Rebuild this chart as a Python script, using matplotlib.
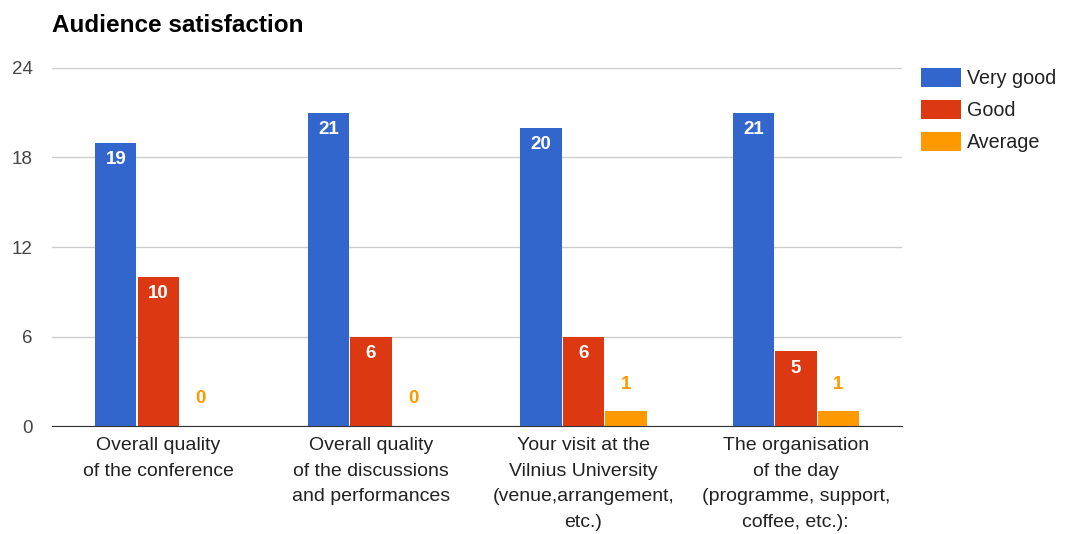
import matplotlib.pyplot as plt
import numpy as np

plt.rcParams['font.family'] = ['Liberation Sans', 'DejaVu Sans']

categories = ['Overall quality\nof the conference',
              'Overall quality\nof the discussions\nand performances',
              'Your visit at the\nVilnius University\n(venue,arrangement,\netc.)',
              'The organisation\nof the day\n(programme, support,\ncoffee, etc.):']
very_good = [19, 21, 20, 21]
good = [10, 6, 6, 5]
average = [0, 0, 1, 1]

series = [('Very good', very_good, '#3366CC'),
          ('Good', good, '#DC3912'),
          ('Average', average, '#FF9900')]

fig = plt.figure(figsize=(10.66, 5.34), dpi=100)
ax = fig.add_axes([0.0488, 0.2022, 0.7974, 0.6705])

x = np.arange(len(categories))
w = 0.2
for i, (name, vals, col) in enumerate(series):
    pos = x + (i - 1) * w
    ax.bar(pos, vals, width=w - 0.005, color=col, label=name, zorder=3)
    for p, v in zip(pos, vals):
        if v >= 3:
            ax.annotate(str(v), (p, v), xytext=(0, -10.5), textcoords='offset points',
                        ha='center', va='center_baseline', color='white', fontsize=13.5,
                        fontweight='bold', zorder=4)
        else:
            ax.annotate(str(v), (p, v), xytext=(0, 19.5), textcoords='offset points',
                        ha='center', va='center', color=col, fontsize=13.5,
                        fontweight='bold', zorder=4)

ax.set_xlim(-0.5, 3.5)
ax.set_ylim(0, 24)
ax.set_yticks([0, 6, 12, 18, 24])
ax.yaxis.grid(True, color='#cccccc', linewidth=1, zorder=0)
ax.set_xticks(x)
ax.set_xticklabels(categories, fontsize=14, color='#222222', linespacing=1.66, va='top')
ax.tick_params(axis='x', length=0, pad=8)
ax.tick_params(axis='y', length=0, pad=14, labelsize=13.5, labelcolor='#444444')
for s in ['top', 'right', 'left']:
    ax.spines[s].set_visible(False)
ax.spines['bottom'].set_color('#333333')
ax.spines['bottom'].set_zorder(5)

fig.text(0.0488, 0.953, 'Audience satisfaction', fontsize=17.5, fontweight='bold',
         color='#000000', ha='left', va='center')

ax.legend(loc='upper left', bbox_to_anchor=(1.001, 1.05), frameon=False, fontsize=14.2,
          handlelength=2.05, handleheight=1.1, handletextpad=0.3, labelspacing=0.6,
          labelcolor='#222222')

fig.savefig('out.png', dpi=100)
